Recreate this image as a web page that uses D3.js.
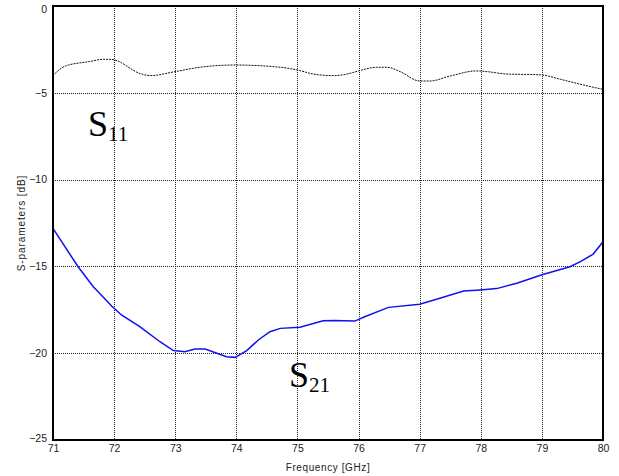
<!DOCTYPE html>
<html>
<head>
<meta charset="utf-8">
<script src="https://cdn.jsdelivr.net/npm/d3@7"></script>
<style>
  html, body { margin: 0; padding: 0; background: #fff; }
  svg { display: block; }
</style>
</head>
<body>
<svg id="chart" width="619" height="476"></svg>
<script>
// Measured S-parameters, frequency in GHz, magnitude in dB
const s11Freq = [71.0, 71.2, 71.6, 71.82, 71.96, 72.45, 72.59, 73.0, 73.4, 73.98, 74.72, 75.04, 75.26, 75.59, 75.86, 76.0, 76.3, 76.47, 76.68, 77.0, 77.17, 77.5, 77.93, 78.1, 78.43, 78.97, 79.3, 79.68, 80.0];
const s11Db   = [-4.0, -3.46, -3.2, -3.07, -3.08, -3.92, -4.01, -3.78, -3.53, -3.40, -3.53, -3.72, -3.92, -4.01, -3.88, -3.74, -3.53, -3.53, -3.78, -4.32, -4.32, -4.03, -3.74, -3.78, -3.92, -3.96, -4.22, -4.55, -4.80];

const s21Freq = [71.0, 71.41, 71.66, 71.96, 72.12, 72.42, 72.75, 72.97, 73.16, 73.32, 73.49, 73.84, 73.98, 74.17, 74.36, 74.55, 74.72, 75.04, 75.42, 75.6, 75.94, 76.08, 76.49, 77.0, 77.33, 77.72, 77.99, 78.26, 78.59, 79.0, 79.46, 79.63, 79.84, 80.0];
const s21Db   = [-12.81, -15.02, -16.17, -17.28, -17.8, -18.47, -19.34, -19.85, -19.91, -19.76, -19.76, -20.2, -20.24, -19.85, -19.24, -18.76, -18.57, -18.51, -18.13, -18.12, -18.15, -17.93, -17.36, -17.18, -16.84, -16.42, -16.36, -16.28, -15.97, -15.48, -15.02, -14.73, -14.29, -13.58];

const xTicks = [71, 72, 73, 74, 75, 76, 77, 78, 79, 80];
const yTicks = [0, -5, -10, -15, -20, -25];

const width = 619, height = 476;
const margin = { top: 6, right: 16, bottom: 36, left: 53 };

const svg = d3.select("#chart");
const x = d3.scaleLinear().domain([71, 80]).range([margin.left, width - margin.right]);
const y = d3.scaleLinear().domain([-25, 0]).range([height - margin.bottom, margin.top]);

// dotted grid
const grid = svg.append("g").attr("stroke", "#222").attr("stroke-width", 1)
  .attr("stroke-dasharray", "1,1").attr("shape-rendering", "crispEdges");
grid.selectAll("line.gx").data(xTicks.slice(1, -1)).join("line")
  .attr("x1", d => Math.round(x(d)) + 0.5).attr("x2", d => Math.round(x(d)) + 0.5)
  .attr("y1", y(0)).attr("y2", y(-25));
grid.selectAll("line.gy").data(yTicks.slice(1, -1)).join("line")
  .attr("y1", d => Math.round(y(d)) + 0.5).attr("y2", d => Math.round(y(d)) + 0.5)
  .attr("x1", x(71)).attr("x2", x(80));

// axes with tick labels
const fontFam = "Arial, 'Liberation Sans', sans-serif";
const xAxis = svg.append("g").attr("transform", `translate(0,${y(-25)})`)
  .call(d3.axisBottom(x).tickValues(xTicks).tickSize(0).tickPadding(5).tickFormat(d3.format("d")));
const yAxis = svg.append("g").attr("transform", `translate(${x(71)},0)`)
  .call(d3.axisLeft(y).tickValues(yTicks).tickSize(0).tickPadding(6).tickFormat(d3.format("d")));
[xAxis, yAxis].forEach(a => {
  a.select(".domain").remove();
  a.selectAll("text").attr("font-family", fontFam).attr("font-size", 10.5).attr("fill", "#222");
});
yAxis.selectAll("text").filter(d => d === 0).attr("dy", "0.6em");
yAxis.selectAll("text").filter(d => d === -25).attr("dy", "0.1em");

// curves
const line = d3.line().x(d => x(d[0])).y(d => y(d[1]));
svg.append("path")
  .datum(d3.zip(s11Freq, s11Db))
  .attr("d", line.curve(d3.curveMonotoneX))
  .attr("fill", "none").attr("stroke", "#111").attr("stroke-width", 1)
  .attr("stroke-dasharray", "2,1");
svg.append("path")
  .datum(d3.zip(s21Freq, s21Db))
  .attr("d", line.curve(d3.curveLinear))
  .attr("fill", "none").attr("stroke", "#1010f0").attr("stroke-width", 1.5);

// frame
svg.append("rect")
  .attr("x", x(71)).attr("y", y(0))
  .attr("width", x(80) - x(71)).attr("height", y(-25) - y(0))
  .attr("fill", "none").attr("stroke", "#000").attr("stroke-width", 2);

// axis titles
svg.append("text")
  .attr("x", (x(71) + x(80)) / 2).attr("y", 471)
  .attr("text-anchor", "middle").attr("font-family", fontFam)
  .attr("font-size", 10).attr("letter-spacing", "0.6px").attr("fill", "#222")
  .text("Frequency [GHz]");
svg.append("text")
  .attr("transform", `translate(25,${(y(0) + y(-25)) / 2}) rotate(-90)`)
  .attr("text-anchor", "middle").attr("font-family", fontFam)
  .attr("font-size", 10).attr("letter-spacing", "0.9px").attr("fill", "#222")
  .text("S-parameters [dB]");

// curve labels
function sLabel(px, py, sub) {
  const t = svg.append("text").attr("x", px).attr("y", py)
    .attr("font-family", "'Times New Roman', 'Liberation Serif', serif")
    .attr("font-size", 36).attr("fill", "#000");
  t.append("tspan").text("S");
  t.append("tspan").attr("font-size", 21).attr("dy", 5).text(sub);
}
sLabel(88, 136, "11");
sLabel(289, 387, "21");
</script>
</body>
</html>
